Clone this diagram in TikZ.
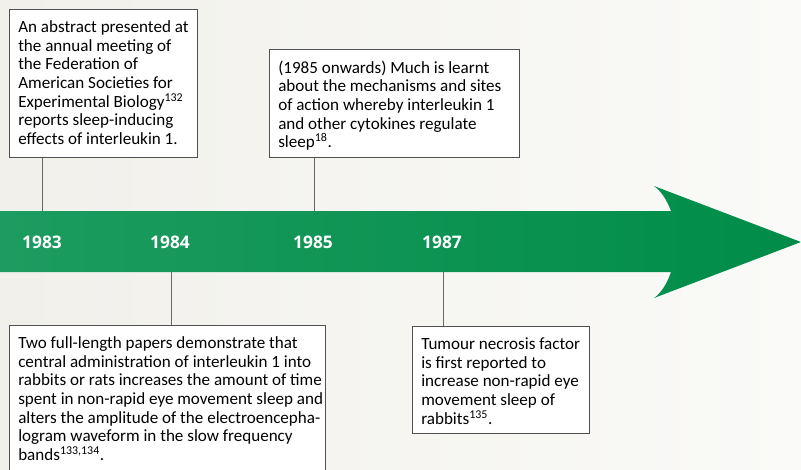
\documentclass[tikz,border=0pt]{standalone}
\usepackage{fontspec}
\setmainfont{Carlito}
\newfontfamily\yearfont{Open Sans}
\usetikzlibrary{positioning}
\definecolor{bgleft}{RGB}{241,240,235}
\definecolor{bgright}{RGB}{250,250,248}
\definecolor{arrowlight}{RGB}{28,156,96}
\definecolor{arrowdark}{RGB}{0,140,72}
\definecolor{boxline}{RGB}{80,80,80}
\definecolor{stemline}{RGB}{105,105,105}
\tikzset{
    eventbox/.style={draw=boxline, line width=0.75pt, fill=white, anchor=north west,
        inner sep=0pt},
    eventtext/.style={anchor=north west, align=left, inner xsep=6.75pt, inner ysep=8.5pt,
        font=\fontsize{12.8}{14}\selectfont},
    yearlabel/.style={text=white, font=\yearfont\bfseries\fontsize{13}{15}\selectfont},
    stem/.style={draw=stemline, line width=0.75pt}
}
\newcommand{\refnum}[1]{\textsuperscript{#1}}

\begin{document}
\begin{tikzpicture}[x=0.75pt, y=-0.75pt]
    \useasboundingbox (0, 0) rectangle (801, 469);
    \shade[left color=bgleft, right color=bgright] (0, 0) rectangle (801, 469);
    % timeline arrow
    \shade[left color=arrowlight, right color=arrowdark]
        (0, 211) -- (671, 211) .. controls (667, 200) and (661, 191) .. (654, 186)
        -- (801, 242) -- (654, 298) .. controls (661, 293) and (667, 284) .. (671, 272)
        -- (0, 272) -- cycle;
    \node[yearlabel] (y83) at (42, 242) {1983};
    \node[yearlabel] (y84) at (170, 242) {1984};
    \node[yearlabel] (y85) at (313, 242) {1985};
    \node[yearlabel] (y87) at (442, 242) {1987};
    \coordinate (s83) at (42, 211);
    \coordinate (s84) at (171, 272);
    \coordinate (s85) at (314, 211);
    \coordinate (s87) at (443, 272);
    % event boxes
    \node[eventbox, minimum width=141pt, minimum height=111pt] (ev83) at (9, 9) {};
    \node[eventbox, minimum width=187.5pt, minimum height=81pt] (ev85) at (269, 49) {};
    \node[eventbox, minimum width=237pt, minimum height=130pt] (ev84) at (9, 325) {};
    \node[eventbox, minimum width=132.75pt, minimum height=80.25pt] (ev87) at (412, 326) {};
    % event texts
    \node[eventtext] (tx83) at (ev83.north west)
        {An abstract presented at\\the annual meeting of\\the Federation of\\American Societies for\\Experimental Biology\refnum{132}\\reports sleep-inducing\\effects of interleukin 1.};
    \node[eventtext] (tx85) at (ev85.north west)
        {(1985 onwards) Much is learnt\\about the mechanisms and sites\\of action whereby interleukin 1\\and other cytokines regulate\\sleep\refnum{18}.};
    \node[eventtext] (tx84) at (ev84.north west)
        {Two full-length papers demonstrate that\\central administration of interleukin 1 into\\rabbits or rats increases the amount of time\\spent in non-rapid eye movement sleep and\\alters the amplitude of the electroencepha-\\logram waveform in the slow frequency\\bands\refnum{133,134}.};
    \node[eventtext] (tx87) at (ev87.north west)
        {Tumour necrosis factor\\is first reported to\\increase non-rapid eye\\movement sleep of\\rabbits\refnum{135}.};
    \draw[stem] (s83) -- (s83 |- ev83.south);
    \draw[stem] (s85) -- (s85 |- ev85.south);
    \draw[stem] (s84) -- (s84 |- ev84.north);
    \draw[stem] (s87) -- (s87 |- ev87.north);
\end{tikzpicture}
\end{document}
